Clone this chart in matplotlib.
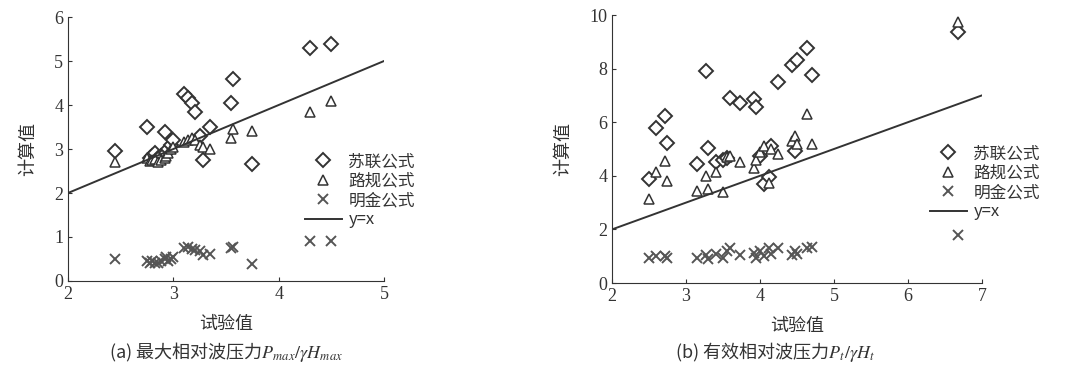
import numpy as np
import matplotlib.pyplot as plt

plt.rcParams['font.family'] = ['Liberation Serif', 'Noto Sans CJK SC', 'DejaVu Sans']
plt.rcParams['mathtext.fontset'] = 'stix'

# (a) 最大相对波压力
x_a = [2.45, 2.75, 2.78, 2.80, 2.83, 2.85, 2.88, 2.92, 2.93, 2.95, 2.98, 3.00,
       3.10, 3.14, 3.18, 3.21, 3.25, 3.28, 3.35, 3.55, 3.57, 3.75, 4.30, 4.50]
sulian_a = [2.95, 3.50, 2.80, 2.85, 2.90, 2.80, 2.85, 3.38, 2.90, 3.00, 3.10, 3.20,
            4.25, 4.15, 4.05, 3.85, 3.30, 2.75, 3.50, 4.05, 4.60, 2.65, 5.30, 5.38]
lugui_a = [2.70, 2.80, 2.72, 2.75, 2.78, 2.70, 2.75, 2.80, 2.85, 2.90, 3.00, 3.05,
           3.15, 3.20, 3.25, 3.20, 3.10, 3.05, 3.00, 3.25, 3.45, 3.40, 3.85, 4.10]
mingjin_a = [0.50, 0.45, 0.40, 0.45, 0.40, 0.42, 0.45, 0.50, 0.55, 0.45, 0.50, 0.55,
             0.75, 0.78, 0.72, 0.70, 0.68, 0.60, 0.62, 0.75, 0.78, 0.38, 0.90, 0.90]

# (b) 有效相对波压力
x_b = [2.50, 2.60, 2.72, 2.75, 3.15, 3.27, 3.30, 3.40, 3.50, 3.55, 3.60, 3.73, 3.92,
       3.95, 4.00, 4.05, 4.12, 4.15, 4.25, 4.43, 4.47, 4.50, 4.63, 4.70, 6.68]
sulian_b = [3.88, 5.78, 6.25, 5.23, 4.44, 7.90, 5.03, 4.50, 4.60, 4.65, 6.90, 6.73, 6.88,
            6.56, 4.75, 3.69, 3.94, 5.13, 7.50, 8.13, 4.94, 8.31, 8.78, 7.75, 9.38]
lugui_b = [3.13, 4.13, 4.56, 3.81, 3.44, 4.00, 3.50, 4.13, 3.40, 4.70, 4.75, 4.50, 4.30,
           4.60, 4.88, 5.10, 3.75, 5.00, 4.81, 5.30, 5.50, 5.20, 6.31, 5.19, 9.75]
mingjin_b = [0.94, 1.00, 1.00, 0.95, 0.94, 1.05, 0.90, 1.10, 0.95, 1.20, 1.31, 1.05, 1.13,
             0.95, 1.20, 1.00, 1.31, 1.10, 1.31, 1.06, 1.20, 1.10, 1.31, 1.35, 1.80]

labels = ['苏联公式', '路规公式', '明金公式', 'y=x']
c = '#333333'

fig = plt.figure(figsize=(10.69, 3.76), dpi=100)
ax1 = fig.add_axes([0.0636, 0.2527, 0.2956, 0.702])
ax2 = fig.add_axes([0.5725, 0.2473, 0.346, 0.7128])


def panel(ax, x, s, l, m, xmax, ymax, ystep, caption, cap_x, leg_xy):
    ax.plot(x, s, 'D', mfc='white', mec=c, ms=7, mew=1.4, label=labels[0])
    ax.plot(x, l, '^', mfc='white', mec=c, ms=7.5, mew=1.1, label=labels[1])
    ax.plot(x, m, 'x', color='#555555', ms=6.5, mew=1.4, label=labels[2])
    ax.plot([2, xmax], [2, xmax], '-', color=c, lw=1.4, label=labels[3])
    ax.set_xlim(2, xmax)
    ax.set_ylim(0, ymax)
    ax.set_xticks(range(2, xmax + 1))
    ax.set_yticks(range(0, ymax + 1, ystep))
    for sp in ['top', 'right']:
        ax.spines[sp].set_visible(False)
    ax.spines['left'].set_color(c)
    ax.spines['bottom'].set_color(c)
    ax.tick_params(direction='in', length=3, labelsize=13, colors=c)
    ax.set_xlabel('试验值', fontsize=13, family=['Noto Sans CJK SC'], color=c, labelpad=9)
    ax.set_ylabel('计算值', fontsize=13, family=['Noto Sans CJK SC'], color=c, labelpad=12)
    fig.text(cap_x, 1 - 352 / 376, caption, ha='center', va='center',
             fontsize=13, color=c, family=['Noto Sans CJK SC', 'DejaVu Sans'])
    leg = ax.legend(loc='upper left', bbox_to_anchor=leg_xy, bbox_transform=fig.transFigure,
                    frameon=False, labelspacing=0.15, handlelength=2.2,
                    handletextpad=0.4, prop={'family': ['Noto Sans CJK SC'], 'size': 12})
    for t in leg.get_texts():
        t.set_color(c)


panel(ax1, x_a, sulian_a, lugui_a, mingjin_a, 5, 6, 1,
      '(a) 最大相对波压力$P_{max}/\\gamma H_{max}$', 226 / 1069, (290 / 1069, 1 - 138 / 376))
panel(ax2, x_b, sulian_b, lugui_b, mingjin_b, 7, 10, 2,
      '(b) 有效相对波压力$P_{t}/\\gamma H_{t}$', 775 / 1069, (915 / 1069, 1 - 130 / 376))

fig.savefig('out.png', dpi=100)
